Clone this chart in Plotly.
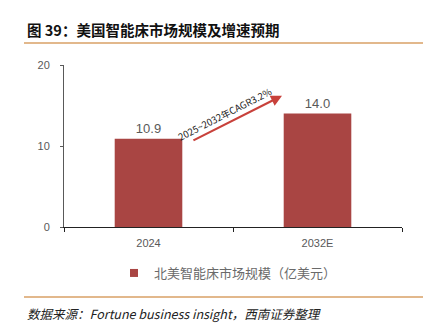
import plotly.graph_objects as go

# Market size data (亿美元)
years = ["2024", "2032E"]
market_size = [10.9, 14.0]
value_labels = ["10.9", "14.0"]
y_ticks = [0, 10, 20]
series_name = "北美智能床市场规模（亿美元）"
cagr_text = "2025~2032年CAGR3.2%"

BAR_COLOR = "#A94543"
GRAY = "#595959"
RULE = "#D9A066"
CJK = "Noto Sans CJK SC"

fig = go.Figure()
fig.add_trace(go.Bar(
    x=years, y=market_size, name=series_name, showlegend=False,
    marker=dict(color=BAR_COLOR, line=dict(width=0)),
    text=value_labels, textposition="outside",
    textfont=dict(size=13, color=GRAY, family="Liberation Sans"),
    cliponaxis=False,
))
# legend entry with a small square swatch
fig.add_trace(go.Scatter(
    x=[None], y=[None], mode="markers", name=series_name,
    marker=dict(symbol="square", size=8, color=BAR_COLOR),
))

fig.update_layout(
    width=429, height=328,
    margin=dict(l=64, r=27, t=65, b=101),
    paper_bgcolor="white", plot_bgcolor="white",
    bargap=0.6,
    showlegend=True,
    legend=dict(orientation="h", x=0.148, xanchor="left", y=-0.284, yanchor="middle",
                font=dict(size=13, color="#6a6a6a", family=CJK),
                itemwidth=30, bgcolor="rgba(0,0,0,0)"),
    xaxis=dict(type="category", range=[-0.5, 1.5], showline=True, linecolor="#222222",
               linewidth=1, ticks="outside", tickson="boundaries", ticklen=4,
               tickcolor="#222222", showgrid=False, ticklabelstandoff=6,
               tickfont=dict(size=11, color=GRAY, family="Liberation Sans")),
    yaxis=dict(range=[0, 20], tickvals=y_ticks, showline=True, linecolor=GRAY,
               linewidth=1, ticks="outside", ticklen=3, tickcolor=GRAY, showgrid=False,
               zeroline=False, ticklabelstandoff=8,
               tickfont=dict(size=11, color=GRAY, family="Liberation Sans")),
)

# Growth arrow between the two bars
fig.add_annotation(x=0.79, y=16.2, ax=0.257, ay=10.6, xref="x", yref="y",
                   axref="x", ayref="y", showarrow=True, arrowhead=2, arrowsize=1,
                   arrowwidth=2.2, arrowcolor="#C8413B", text="")
fig.add_annotation(x=0.45, y=14.0, xref="x", yref="y", text=cagr_text,
                   showarrow=False, textangle=-27,
                   font=dict(size=9.5, color="#222222", family=CJK))

# Title and source line, placed in pixels
fig.add_annotation(x=25, y=30, xref="paper", yref="paper", text="<b>图 39：美国智能床市场规模及增速预期</b>",
                   showarrow=False, font=dict(size=14.5, color="#111111", family=CJK),
                   xanchor="left", yanchor="middle")
fig.add_annotation(x=25, y=313, xref="paper", yref="paper",
                   text="<i>数据来源：Fortune business insight，西南证券整理</i>",
                   showarrow=False, font=dict(size=12.5, color="#222222", family=CJK),
                   xanchor="left", yanchor="middle")

# convert pixel-placed annotations/shapes to paper coordinates
PW, PH = 429 - 64 - 27, 328 - 65 - 101
def px(xp):
    return (xp - 64) / PW
def py(yp):
    return (227 - yp) / PH

for ann in fig.layout.annotations:
    if ann.xref == "paper":
        ann.x = px(ann.x)
        ann.y = py(ann.y)

for yline in (43, 297):
    fig.add_shape(type="line", xref="paper", yref="paper", x0=px(24), x1=px(423),
                  y0=py(yline), y1=py(yline), line=dict(color=RULE, width=1.5))

fig.write_html("out.html")
